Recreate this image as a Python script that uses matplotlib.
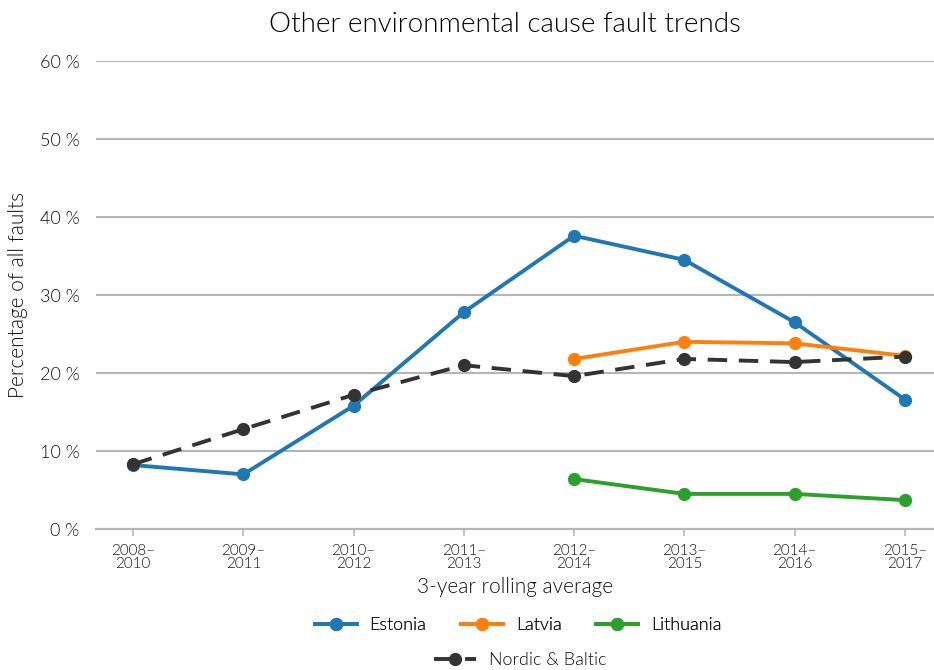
import matplotlib
matplotlib.use("Agg")
import matplotlib.pyplot as plt
import numpy as np

periods = ["2008–\n2010", "2009–\n2011", "2010–\n2012", "2011–\n2013",
           "2012–\n2014", "2013–\n2015", "2014–\n2016", "2015–\n2017"]
estonia = [8.2, 7.0, 15.8, 27.8, 37.6, 34.5, 26.5, 16.6]
latvia = [None, None, None, None, 21.8, 24.0, 23.8, 22.2]
lithuania = [None, None, None, None, 6.4, 4.5, 4.5, 3.7]
nordic_baltic = [8.3, 12.8, 17.2, 21.0, 19.6, 21.8, 21.4, 22.1]
y_ticks = [0, 10, 20, 30, 40, 50, 60]

plt.rcParams["font.family"] = ["Lato", "DejaVu Sans"]
plt.rcParams["font.weight"] = 300
plt.rcParams["axes.labelweight"] = 300
text_color = "#111111"

fig = plt.figure(figsize=(9.34, 6.70), dpi=100)
ax = fig.add_axes([96 / 934, 1 - 529 / 670, (934 - 96) / 934, (529 - 61) / 670])

x = np.arange(len(periods))

def series(vals):
    return np.array([np.nan if v is None else v for v in vals], dtype=float)

lw = 2.8
ms = 8.5
h_est, = ax.plot(x, series(estonia), color="#1f77b4", lw=lw, marker="o", ms=ms, label="Estonia", zorder=3)
h_lat, = ax.plot(x, series(latvia), color="#ff7f0e", lw=lw, marker="o", ms=ms, label="Latvia", zorder=3)
h_lit, = ax.plot(x, series(lithuania), color="#2ca02c", lw=lw, marker="o", ms=ms, label="Lithuania", zorder=3)
h_nb, = ax.plot(x, series(nordic_baltic), color="#333333", lw=lw, marker="o", ms=ms,
                dashes=(5, 3), label="Nordic & Baltic", zorder=4)

ax.set_xlim(-0.336, 7.264)
ax.set_ylim(0, 60)
ax.set_yticks(y_ticks)
ax.set_yticklabels([f"{v} %" for v in y_ticks], fontsize=13, color=text_color)
ax.set_xticks(x)
ax.set_xticklabels(periods, fontsize=11, color=text_color, linespacing=0.9)

ax.grid(axis="y", color="#b5b5b5", lw=1.5, zorder=0)
ax.set_axisbelow(True)
for s in ["top", "right", "left"]:
    ax.spines[s].set_visible(False)
ax.spines["bottom"].set_color("#b5b5b5")
ax.spines["bottom"].set_linewidth(1.5)
ax.tick_params(axis="y", length=0, pad=12)
ax.tick_params(axis="x", length=5, width=1.2, color="#b5b5b5", pad=6)

ax.set_xlabel("3-year rolling average", fontsize=15, color=text_color, labelpad=4)
ax.set_ylabel("Percentage of all faults", fontsize=15, color=text_color)
ax.yaxis.set_label_coords((28 - 96) / (934 - 96), 0.5)
fig.text(505 / 934, 1 - 24 / 670, "Other environmental cause fault trends",
         ha="center", va="center", fontsize=20, color="#000000")

leg_kw = dict(frameon=False, fontsize=13, handlelength=2.35, handletextpad=0.7)
leg1 = fig.legend(handles=[h_est, h_lat, h_lit], loc="center", bbox_to_anchor=(518 / 934, 1 - 625 / 670),
                  ncol=3, columnspacing=1.9, **leg_kw)
for t in leg1.get_texts():
    t.set_color(text_color)
leg2 = fig.legend(handles=[h_nb], loc="center", bbox_to_anchor=(520 / 934, 1 - 660 / 670), **leg_kw)
for t in leg2.get_texts():
    t.set_color(text_color)
fig.add_artist(leg1)

fig.savefig("out.png", dpi=100)
